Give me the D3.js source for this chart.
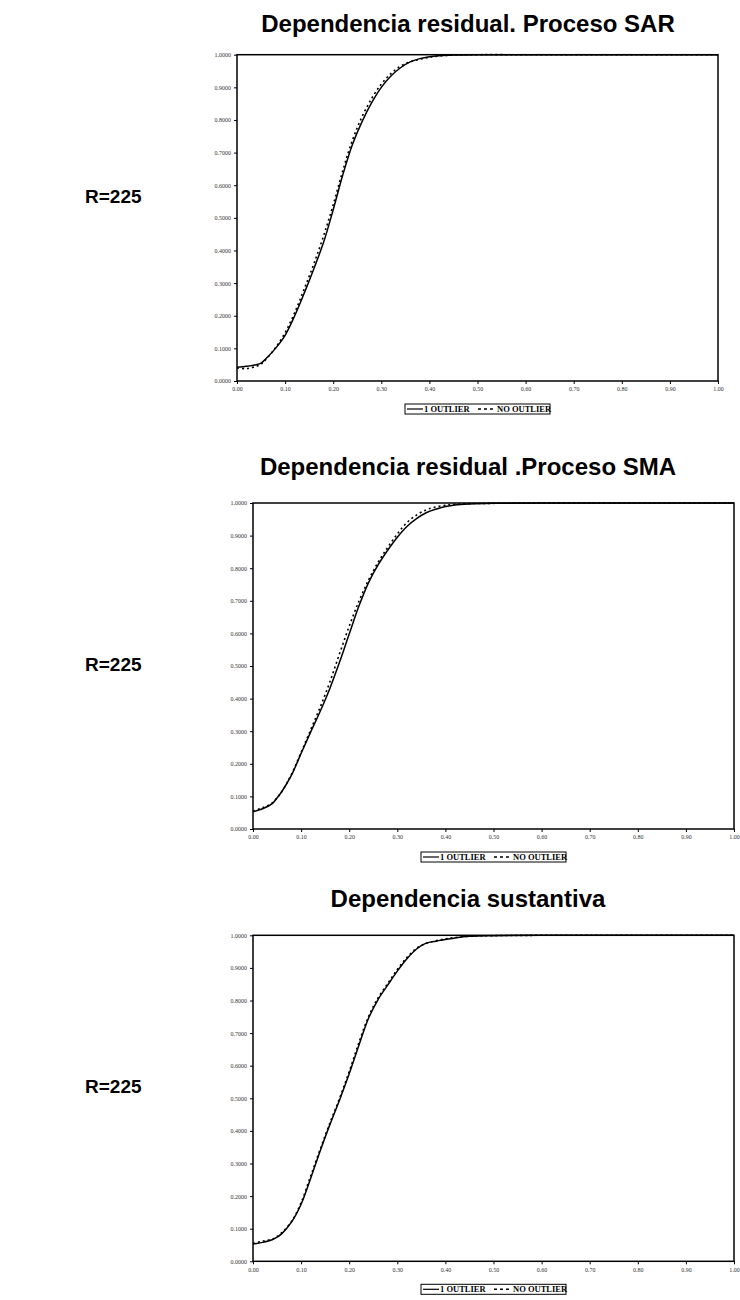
<!DOCTYPE html>
<html>
<head>
<meta charset="utf-8">
<script src="https://cdn.jsdelivr.net/npm/d3@7"></script>
<style>
  body { margin: 0; background: #fff; }
  svg { display: block; }
</style>
</head>
<body>
<svg id="chart" width="740" height="1300"></svg>
<script>
const svg = d3.select("#chart");

// data
const xGrid = [0, 0.02, 0.04, 0.05, 0.06, 0.08, 0.10, 0.12, 0.14, 0.16, 0.18, 0.20, 0.22, 0.24,
  0.26, 0.28, 0.30, 0.32, 0.34, 0.36, 0.38, 0.40, 0.42, 0.45, 0.50, 0.60, 1.00];

const sarOutlier = [0.042, 0.045, 0.050, 0.055, 0.068, 0.100, 0.140, 0.200, 0.270, 0.345, 0.425, 0.525, 0.632, 0.725,
  0.795, 0.853, 0.900, 0.935, 0.960, 0.978, 0.988, 0.994, 0.997, 0.999, 1.000, 1.000, 1.000];
const sarNoOutlier = [0.040, 0.038, 0.045, 0.052, 0.066, 0.102, 0.148, 0.210, 0.283, 0.360, 0.445, 0.540, 0.645, 0.738,
  0.810, 0.866, 0.910, 0.942, 0.965, 0.978, 0.986, 0.992, 0.996, 0.999, 1.000, 1.000, 1.000];

const smaOutlier = [0.053, 0.062, 0.078, 0.095, 0.115, 0.165, 0.232, 0.298, 0.362, 0.432, 0.512, 0.598, 0.683, 0.755,
  0.810, 0.855, 0.895, 0.928, 0.952, 0.970, 0.981, 0.989, 0.994, 0.997, 0.999, 1.000, 1.000];
const smaNoOutlier = [0.055, 0.065, 0.080, 0.096, 0.115, 0.168, 0.235, 0.305, 0.375, 0.452, 0.538, 0.622, 0.698, 0.763,
  0.818, 0.864, 0.905, 0.940, 0.963, 0.979, 0.988, 0.993, 0.996, 0.998, 0.999, 1.000, 1.000];

const susOutlier = [0.053, 0.058, 0.066, 0.074, 0.085, 0.120, 0.175, 0.255, 0.340, 0.420, 0.495, 0.575, 0.662, 0.745,
  0.803, 0.847, 0.890, 0.928, 0.958, 0.976, 0.982, 0.987, 0.992, 0.997, 0.999, 1.000, 1.000];
const susNoOutlier = [0.055, 0.062, 0.068, 0.076, 0.088, 0.122, 0.180, 0.262, 0.345, 0.425, 0.500, 0.582, 0.670, 0.750,
  0.808, 0.852, 0.895, 0.932, 0.960, 0.975, 0.983, 0.989, 0.993, 0.997, 0.999, 1.000, 1.000];

const titles = ["Dependencia residual. Proceso SAR", "Dependencia residual .Proceso SMA", "Dependencia sustantiva"];
const sideLabels = ["R=225", "R=225", "R=225"];
const seriesNames = ["1 OUTLIER", "NO OUTLIER"];
const xTicks = [0, 0.1, 0.2, 0.3, 0.4, 0.5, 0.6, 0.7, 0.8, 0.9, 1.0];
const yTicks = [0, 0.1, 0.2, 0.3, 0.4, 0.5, 0.6, 0.7, 0.8, 0.9, 1.0];

const panels = [
  { left: 237, right: 718, top: 54.7, bottom: 381, titleY: 31.5, labelY: 203, a: sarOutlier, b: sarNoOutlier },
  { left: 253, right: 734, top: 503, bottom: 829, titleY: 475, labelY: 671, a: smaOutlier, b: smaNoOutlier },
  { left: 253, right: 734, top: 935.3, bottom: 1261.3, titleY: 907, labelY: 1093, a: susOutlier, b: susNoOutlier }
];

const serif = "'Liberation Serif', 'Times New Roman', serif";
const sans = "'Liberation Sans', Arial, sans-serif";

panels.forEach((p, i) => {
  const g = svg.append("g");
  const x = d3.scaleLinear().domain([0, 1]).range([p.left, p.right]);
  const y = d3.scaleLinear().domain([0, 1]).range([p.bottom, p.top]);

  g.append("text")
    .attr("x", 468).attr("y", p.titleY)
    .attr("text-anchor", "middle")
    .style("font-family", sans).style("font-weight", "bold").style("font-size", "24px")
    .text(titles[i]);

  g.append("text")
    .attr("x", 85).attr("y", p.labelY)
    .style("font-family", sans).style("font-weight", "bold").style("font-size", "19px")
    .text(sideLabels[i]);

  const xAxis = g.append("g")
    .attr("transform", `translate(0,${p.bottom})`)
    .call(d3.axisBottom(x).tickValues(xTicks).tickSize(3).tickPadding(3).tickFormat(d3.format(".2f")));
  const yAxis = g.append("g")
    .attr("transform", `translate(${p.left},0)`)
    .call(d3.axisLeft(y).tickValues(yTicks).tickSize(3).tickPadding(3).tickFormat(d3.format(".4f")));
  [xAxis, yAxis].forEach(ax => {
    ax.select(".domain").remove();
    ax.selectAll("line").attr("stroke", "#000");
    ax.selectAll("text").style("font-family", serif).style("font-size", "6px").attr("fill", "#333");
  });

  g.append("rect")
    .attr("x", p.left).attr("y", p.top)
    .attr("width", p.right - p.left).attr("height", p.bottom - p.top)
    .attr("fill", "none").attr("stroke", "#000").attr("stroke-width", 1.5);

  const line = d3.line().x((d, k) => x(xGrid[k])).y(d => y(d)).curve(d3.curveCatmullRom.alpha(0.5));

  g.append("path").datum(p.a)
    .attr("d", line).attr("fill", "none").attr("stroke", "#000").attr("stroke-width", 1.5);
  g.append("path").datum(p.b)
    .attr("d", line).attr("fill", "none").attr("stroke", "#000").attr("stroke-width", 1.6)
    .attr("stroke-dasharray", "2,3");

  // legend
  const lx = (p.left + p.right) / 2 - 72.5;
  const ly = p.bottom + 23;
  const leg = g.append("g").attr("transform", `translate(${lx},${ly})`);
  leg.append("rect").attr("width", 145).attr("height", 10)
    .attr("fill", "#fff").attr("stroke", "#000").attr("stroke-width", 1);
  leg.append("line").attr("x1", 2).attr("x2", 18).attr("y1", 5).attr("y2", 5)
    .attr("stroke", "#000").attr("stroke-width", 1.2);
  leg.append("text").attr("x", 19).attr("y", 8)
    .style("font-family", serif).style("font-weight", "bold").style("font-size", "8.5px")
    .text(seriesNames[0]);
  leg.append("line").attr("x1", 73).attr("x2", 91).attr("y1", 5).attr("y2", 5)
    .attr("stroke", "#000").attr("stroke-width", 1.6).attr("stroke-dasharray", "3,3");
  leg.append("text").attr("x", 92).attr("y", 8)
    .style("font-family", serif).style("font-weight", "bold").style("font-size", "8.5px")
    .text(seriesNames[1]);
});
</script>
</body>
</html>
